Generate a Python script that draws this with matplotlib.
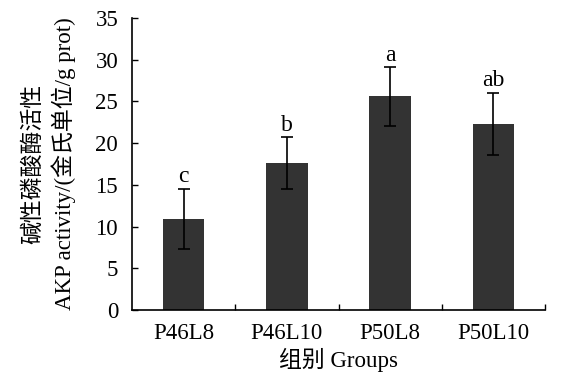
import matplotlib
matplotlib.use("Agg")
import matplotlib.pyplot as plt
import numpy as np

categories = ["P46L8", "P46L10", "P50L8", "P50L10"]
values = [10.9, 17.6, 25.6, 22.3]
errors = [3.6, 3.1, 3.5, 3.7]
letters = ["c", "b", "a", "ab"]

fam = ["Liberation Serif", "Noto Sans CJK SC"]
plt.rcParams['font.family'] = fam
plt.rcParams['font.size'] = 16.5

fig = plt.figure(figsize=(5.63, 3.88), dpi=100)
ax = fig.add_axes([0.2345, 0.201, 0.7335, 0.7526])

x = np.arange(len(categories))
ax.bar(x, values, width=0.4, color="#333333", zorder=2)
ax.errorbar(x, values, yerr=errors, fmt="none", ecolor="black", elinewidth=1.2,
            capsize=4.5, capthick=1.2, zorder=3)
for xi, v, e, lab in zip(x, values, errors, letters):
    ax.text(xi, v + e + 0.2, lab, ha="center", va="bottom", fontsize=17)

ax.set_xlim(-0.5, len(categories) - 0.5)
ax.set_ylim(0, 35)
ax.set_yticks(np.arange(0, 36, 5))
ax.set_xticks(x)
ax.set_xticklabels(categories)
ax.set_xticks(np.arange(0.5, len(categories) - 0.5 + 0.01, 1.0), minor=True)
ax.tick_params(axis="x", which="major", length=0, pad=9)
ax.tick_params(axis="x", which="minor", direction="in", length=4, width=1)
ax.tick_params(axis="y", direction="in", length=4, width=1, pad=10)
for s in ["top", "right"]:
    ax.spines[s].set_visible(False)
for s in ["left", "bottom"]:
    ax.spines[s].set_linewidth(1.2)

ax.set_xlabel("组别 Groups", labelpad=3)
ax.set_ylabel("碱性磷酸酶活性\nAKP activity/(金氏单位/g prot)", linespacing=1.35, labelpad=14)

fig.savefig("out.png", dpi=100)
